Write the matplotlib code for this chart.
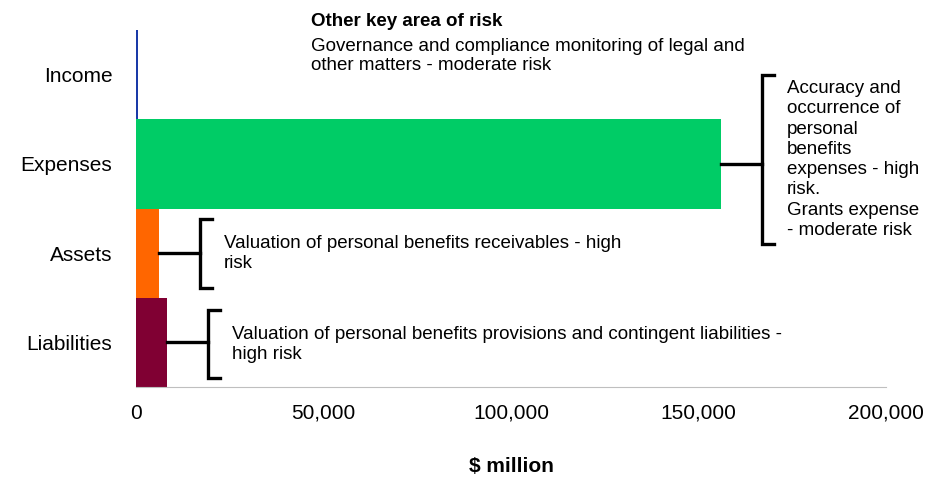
import matplotlib.pyplot as plt

plt.rcParams['font.family'] = ['Liberation Sans', 'DejaVu Sans']

categories = ["Income", "Expenses", "Assets", "Liabilities"]
values = [400, 156000, 6000, 8200]
colors = ["#1a3aa8", "#00cc66", "#ff6600", "#800033"]

notes = {
    "Expenses": "Accuracy and\noccurrence of\npersonal\nbenefits\nexpenses - high\nrisk.\nGrants expense\n- moderate risk",
    "Assets": "Valuation of personal benefits receivables - high\nrisk",
    "Liabilities": "Valuation of personal benefits provisions and contingent liabilities -\nhigh risk",
}
# bracket extent (above, below) around the bar centre, in category units
spans = {"Expenses": (1.0, 0.9), "Assets": (0.38, 0.39), "Liabilities": (0.36, 0.4)}

fs = 15      # tick labels
fs_note = 13.5  # annotation text

fig = plt.figure(figsize=(9.47, 4.91), dpi=100)
ax = fig.add_axes([136/947, 1 - 387/491, 750/947, 357/491])

ys = list(range(len(categories)))
ax.barh(ys, values, height=1.0, color=colors)
ax.set_ylim(len(categories) - 0.5, -0.5)
ax.set_xlim(0, 200000)
ax.set_xticks([0, 50000, 100000, 150000, 200000])
ax.set_xticklabels(["0", "50,000", "100,000", "150,000", "200,000"], fontsize=fs)
ax.set_yticks(ys)
ax.set_yticklabels(categories, fontsize=fs)
ax.tick_params(axis="x", length=0, pad=12)
ax.tick_params(axis="y", length=0, pad=17)
for s in ["top", "right", "left"]:
    ax.spines[s].set_visible(False)
ax.spines["bottom"].set_color("#bfbfbf")
ax.set_xlabel("$ million", fontsize=fs, fontweight="bold", labelpad=25)

gap = 11000
tick = 3200
for i, cat in enumerate(categories):
    if cat not in notes:
        continue
    xb = values[i] + gap
    up, down = spans[cat]
    ax.plot([values[i], xb], [i, i], color="black", lw=2.4, clip_on=False)
    ax.plot([xb + tick, xb, xb, xb + tick], [i - up, i - up, i + down, i + down],
            color="black", lw=2.4, clip_on=False, solid_joinstyle="miter")
    ax.text(xb + tick + 3300, i - up + (down + up) / 2, notes[cat], fontsize=fs_note,
            va="center", ha="left", linespacing=1.25)

fig.text(311/947, 1 - 22/491, "Other key area of risk", fontsize=fs_note,
         fontweight="bold", va="center", ha="left")
fig.text(311/947, 1 - 56/491,
         "Governance and compliance monitoring of legal and\nother matters - moderate risk",
         fontsize=fs_note, va="center", ha="left", linespacing=1.22)

fig.savefig("out.png", dpi=100)
